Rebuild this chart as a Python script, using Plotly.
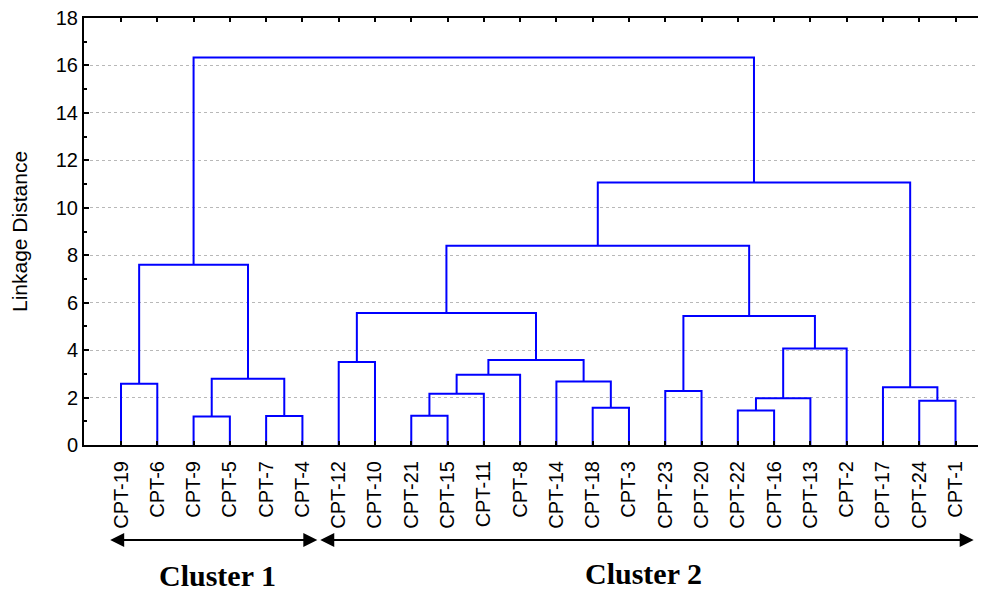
import plotly.graph_objects as go

# ---- data ----
leaf_labels = ["CPT-19", "CPT-6", "CPT-9", "CPT-5", "CPT-7", "CPT-4",
               "CPT-12", "CPT-10", "CPT-21", "CPT-15", "CPT-11", "CPT-8",
               "CPT-14", "CPT-18", "CPT-3", "CPT-23", "CPT-20", "CPT-22",
               "CPT-16", "CPT-13", "CPT-2", "CPT-17", "CPT-24", "CPT-1"]

merge_ids = ["M1", "M2", "M3", "M4", "M5", "M6", "M7", "M8", "M9", "M10",
             "M11", "M12", "M13", "M14", "M15", "M16", "M17", "M18", "M19",
             "M20", "M21", "M22", "M23"]
merge_left = ["CPT-9", "CPT-7", "CPT-21", "CPT-22", "CPT-18", "CPT-24", "M4",
              "M3", "CPT-23", "CPT-17", "CPT-19", "CPT-14", "M1", "M8",
              "CPT-12", "M14", "M7", "M9", "M15", "M11", "M19", "M21", "M20"]
merge_right = ["CPT-5", "CPT-4", "CPT-15", "CPT-16", "CPT-3", "CPT-1",
               "CPT-13", "CPT-11", "CPT-20", "M6", "CPT-6", "M5", "M2",
               "CPT-8", "CPT-10", "M12", "CPT-2", "M17", "M16", "M13",
               "M18", "M10", "M22"]
merge_height = [1.20, 1.22, 1.23, 1.45, 1.57, 1.87, 1.97, 2.16, 2.28, 2.43,
                2.58, 2.68, 2.79, 2.96, 3.50, 3.58, 4.07, 5.44, 5.56, 7.60,
                8.40, 11.07, 16.34]

y_ticks = [0, 2, 4, 6, 8, 10, 12, 14, 16, 18]
cluster_names = ["Cluster 1", "Cluster 2"]

# ---- build dendrogram coordinates ----
pos = {lab: i + 1 for i, lab in enumerate(leaf_labels)}
hgt = {lab: 0.0 for lab in leaf_labels}
xs, ys = [], []
for mid, a, b, h in zip(merge_ids, merge_left, merge_right, merge_height):
    xa, xb = pos[a], pos[b]
    xs += [xa, xa, xb, xb, None]
    ys += [hgt[a], h, h, hgt[b], None]
    pos[mid] = (xa + xb) / 2.0
    hgt[mid] = h

fig = go.Figure()
fig.add_trace(go.Scatter(x=xs, y=ys, mode="lines",
                         line=dict(color="#0000ff", width=2),
                         hoverinfo="skip", showlegend=False))

FONT = "Liberation Sans, Arial, sans-serif"

# page body has an 8px margin, so the figure is sized to fit the window
fig.update_layout(
    width=978, height=585,
    margin=dict(l=76, r=0, t=10, b=148),
    paper_bgcolor="white", plot_bgcolor="white",
    font=dict(family=FONT, color="black"),
    showlegend=False,
)
fig.update_xaxes(
    automargin=False,
    range=[-0.02, 24.84],
    tickmode="array",
    tickvals=list(range(1, len(leaf_labels) + 1)),
    ticktext=leaf_labels,
    tickangle=-90,
    tickfont=dict(size=20, family=FONT, color="black"),
    ticklabelstandoff=6,
    ticklabeloverflow="allow",
    ticks="inside", ticklen=4, tickwidth=1.5, tickcolor="black",
    showline=True, linecolor="black", linewidth=2, mirror="ticks",
    showgrid=False, zeroline=False,
)
fig.update_yaxes(
    automargin=False,
    range=[0, 18],
    tickmode="array", tickvals=y_ticks,
    tickfont=dict(size=20, family=FONT, color="black"),
    ticklabeloverflow="allow",
    ticks="inside", ticklen=5, tickwidth=1.5, tickcolor="black",
    minor=dict(dtick=1, ticks="inside", ticklen=3, tickcolor="black",
               showgrid=False),
    showline=True, linecolor="black", linewidth=2, mirror=False,
    showgrid=True, gridcolor="#b8b8b8", griddash="dot", gridwidth=1,
    zeroline=False,
    title=dict(text="Linkage Distance", font=dict(size=21, family=FONT),
               standoff=25),
)

# cluster arrows (double headed)
arrow_spans = [(0.66, 6.41), (6.45, 24.5)]
for (x0, x1) in arrow_spans:
    fig.add_annotation(x=x1, y=-0.2225, xref="x", yref="paper",
                       ax=x0, ay=0, axref="x", ayref="pixel",
                       text="", showarrow=True, arrowside="end+start",
                       arrowhead=2, arrowsize=1.4, arrowwidth=2,
                       arrowcolor="black", standoff=0, startstandoff=0)

label_pos = [(3.67, -0.305), (15.41, -0.30)]
for name, (lx, ly) in zip(cluster_names, label_pos):
    fig.add_annotation(x=lx, y=ly, xref="x", yref="paper",
                       xanchor="center", yanchor="middle",
                       text="<b>" + name + "</b>", showarrow=False,
                       font=dict(family="Liberation Serif, Times New Roman, serif",
                                 size=30, color="black"))

fig.write_html("out.html")
